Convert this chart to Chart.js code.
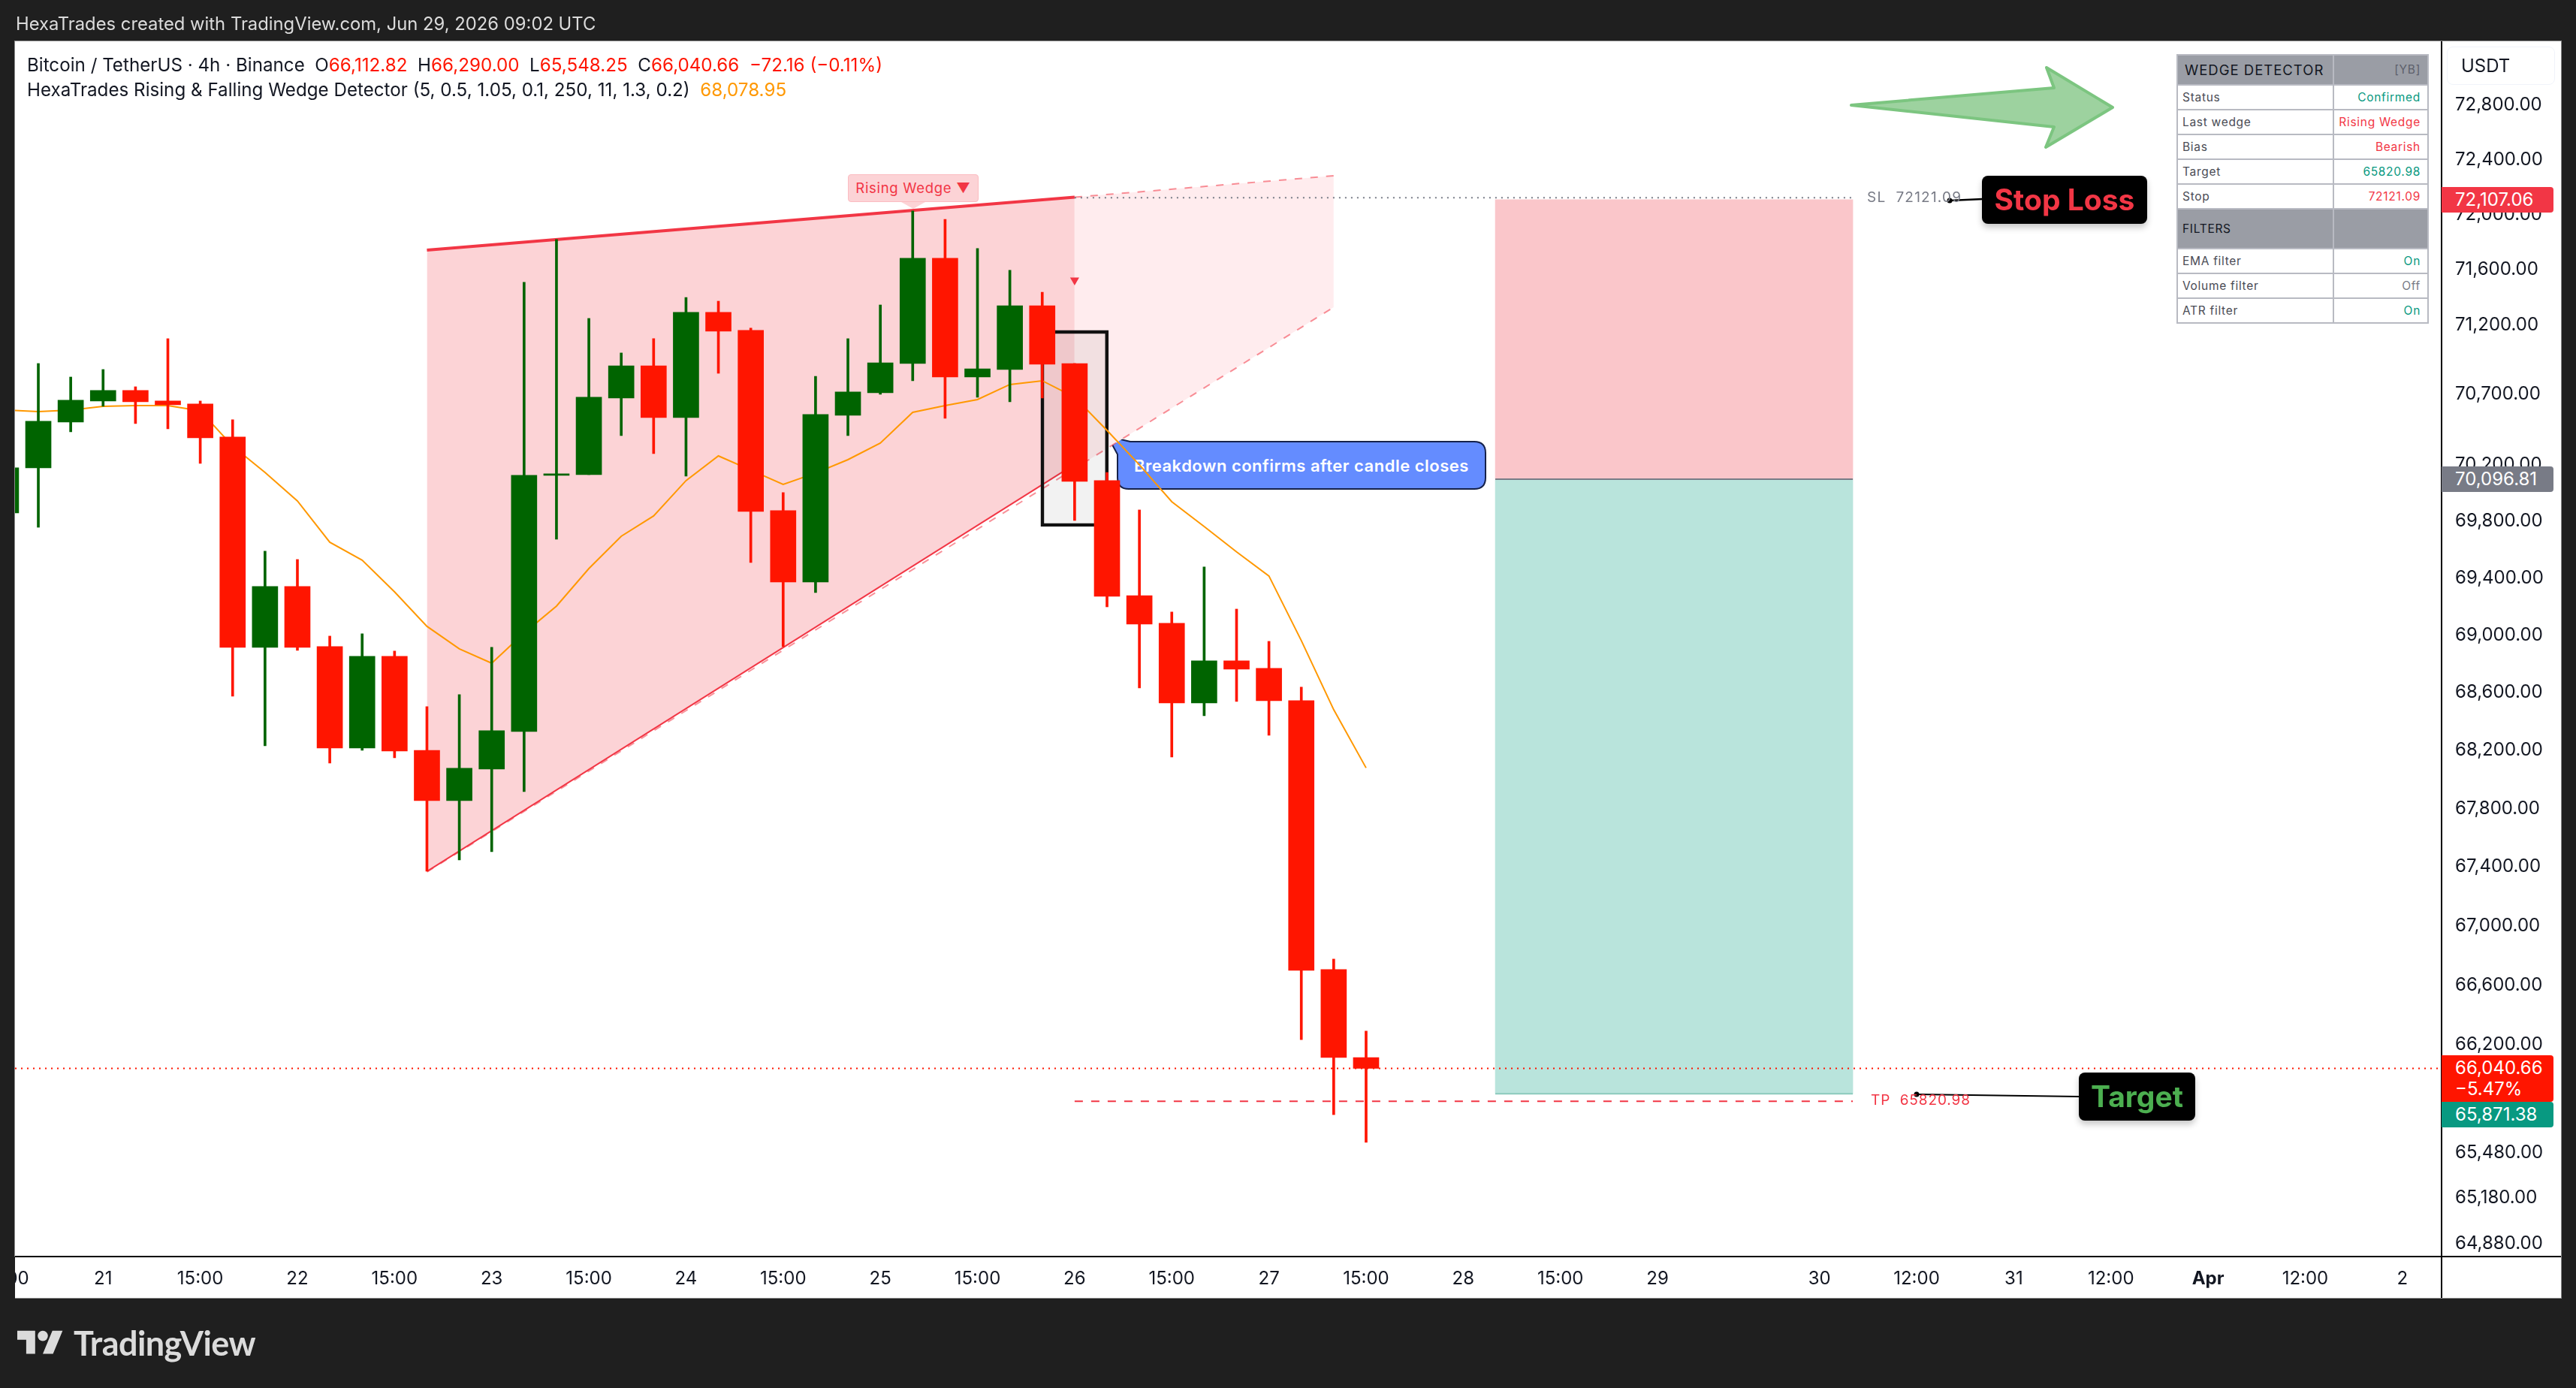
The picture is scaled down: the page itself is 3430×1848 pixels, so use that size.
<!DOCTYPE html>
<html>
<head>
<meta charset="utf-8">
<title>BTCUSDT 4h wedge</title>
<script src="https://cdn.jsdelivr.net/npm/chart.js@4/dist/chart.umd.js"></script>
<style>
    html, body { margin: 0; padding: 0; background: #1f1f1f; width: 3430px; height: 1848px; overflow: hidden; font-family: Inter, sans-serif; }
    .abs { position: absolute; white-space: nowrap; }
    #panel { left: 20px; top: 55px; width: 3390px; height: 1673px; background: #fff; box-shadow: 0 0 0 1px #8a8a8a; z-index: 1; position: absolute; height: 1673px; }
    #callout-svg { position: absolute; left: 0; top: 0; z-index: 2; }
    #callout-text { left: 1510px; top: 606px; font-size: 22px; line-height: 28px; font-weight: 600; color: #fff; letter-spacing: 0.5px; z-index: 2; }
    #chart { position: absolute; left: 0; top: 0; z-index: 3; }
    #left-strip { position: absolute; left: 0; top: 1673px; width: 20px; height: 56px; background: #1f1f1f; z-index: 4; }
    #overlay-svg { position: absolute; left: 0; top: 0; z-index: 4; }
    .over { z-index: 5; }
    .line { position: absolute; background: #000; z-index: 5; }
    #stamp { left: 21px; top: 18px; font-size: 23.8px; line-height: 28px; color: #dbdbdb; }
    .legend { left: 36px; font-size: 24.2px; line-height: 30px; color: #131722; }
    .legend .r { color: #ff1500; }
    .legend .o { color: #ff9800; }
    .badge { left: 3251px; width: 149px; color: #fff; font-size: 24px; border-radius: 0 4px 4px 0; box-sizing: border-box; padding-left: 18px; }
    .tag { background: #000; border-radius: 8px; box-shadow: 0 5px 9px rgba(0,0,0,0.22); text-align: center; font-weight: 700; font-size: 39px; }
    .note { font-size: 19px; letter-spacing: 1.2px; line-height: 24px; }
    #usdt { left: 3258px; top: 62px; width: 144px; height: 51px; box-sizing: border-box; border: 1px solid #f0f3fa; border-radius: 8px; font-size: 24px; line-height: 49px; padding-left: 18px; color: #131722; }
    #wedge-label { left: 1129px; top: 232px; width: 174px; height: 37px; box-sizing: border-box; background: #fcd3d6; border: 1px solid #fbbcc1; border-radius: 4px; color: #f23645; font-size: 18.5px; line-height: 35px; text-align: center; letter-spacing: 0.7px; }
    #detector { left: 2898px; top: 72px; width: 334px; border-collapse: collapse; table-layout: fixed; background: #fff; font-size: 15.5px; letter-spacing: 0.7px; color: #4a4c55; }
    #detector td { border: 2px solid #b8bac2; padding: 0 9px 0 6px; height: 31px; line-height: 18px; }
    #detector td.v { text-align: right; }
    #detector tr.h td { background: #9a9da5; color: #131722; }
    #brand { left: 98px; top: 1760px; font-family: Lato, sans-serif; font-size: 45px; line-height: 56px; font-weight: 700; color: #dbdbdb; letter-spacing: -0.6px; }
</style>
</head>
<body>
<div id="panel"></div>

<!-- callout sits below the chart canvas, the EMA runs over it -->
<svg id="callout-svg" width="3430" height="1848">
    <path d="M1475 581 L1505 588 L1963 588 Q1978 588 1978 603 L1978 636 Q1978 651 1963 651 L1503 651 Q1488 651 1488 636 L1488 605 Z" fill="#648cff" stroke="#16224a" stroke-width="2"/>
</svg>
<div id="callout-text" class="abs">Breakdown confirms after candle closes</div>

<canvas id="chart" width="3430" height="1848"></canvas>
<div id="left-strip"></div>

<svg id="overlay-svg" width="3430" height="1848">
    <polygon points="2465,140 2735,117 2725,90 2813,143 2724,196 2735,169" fill="#9dd29f" stroke="#7cc580" stroke-width="4" stroke-linejoin="round"/>
    <polygon points="1200,269 1232,269 1216,278" fill="#fcd3d6"/>
    <line x1="2596" y1="267" x2="2640" y2="265" stroke="#000" stroke-width="2.5"/>
    <circle cx="2596" cy="267" r="3.5" fill="#000"/>
    <line x1="2552" y1="1457" x2="2768" y2="1460" stroke="#000" stroke-width="2"/>
    <circle cx="2552" cy="1457" r="3.5" fill="#000"/>
    <g transform="translate(23 1765) scale(1.7)" fill="#dbdbdb">
        <path d="M14 22H7V11H0V4h14v18zM28 22h-8l7.5-18h8L28 22z"/>
        <circle cx="20" cy="8" r="4"/>
    </g>
</svg>

<div class="line" style="left:3250px;top:55px;width:2px;height:1673px"></div>
<div class="line" style="left:20px;top:1672px;width:3390px;height:2px"></div>

<div id="stamp" class="abs over">HexaTrades created with TradingView.com, Jun 29, 2026 09:02 UTC</div>
<div class="legend abs over" style="top:72px">Bitcoin / TetherUS · 4h · Binance &nbsp;O<span class="r">66,112.82</span> &nbsp;H<span class="r">66,290.00</span> &nbsp;L<span class="r">65,548.25</span> &nbsp;C<span class="r">66,040.66</span> &nbsp;<span class="r">−72.16 (−0.11%)</span></div>
<div class="legend abs over" style="top:105px">HexaTrades Rising &amp; Falling Wedge Detector (5, 0.5, 1.05, 0.1, 250, 11, 1.3, 0.2) &nbsp;<span class="o">68,078.95</span></div>

<div id="wedge-label" class="abs over">Rising Wedge ▼</div>

<div class="note abs over" style="left:2486px;top:251px;color:#787b86">SL&nbsp; 72121.09</div>
<div class="note abs over" style="left:2491px;top:1453px;color:#f23645;letter-spacing:0.9px">TP&nbsp; 65820.98</div>
<div class="tag abs over" style="left:2639px;top:234px;width:220px;height:64px;line-height:64px;color:#f23645">Stop Loss</div>
<div class="tag abs over" style="left:2768px;top:1428px;width:155px;height:64px;line-height:64px;color:#4caf50">Target</div>

<table id="detector" class="abs over">
    <colgroup><col style="width:208px"><col style="width:126px"></colgroup>
    <tr class="h"><td style="height:38px;font-size:18.5px;letter-spacing:1px;padding-left:9px">WEDGE DETECTOR</td><td class="v" style="color:#5d606b">[YB]</td></tr>
    <tr><td>Status</td><td class="v" style="color:#089981">Confirmed</td></tr>
    <tr><td>Last wedge</td><td class="v" style="color:#f23645">Rising Wedge</td></tr>
    <tr><td>Bias</td><td class="v" style="color:#f23645">Bearish</td></tr>
    <tr><td>Target</td><td class="v" style="color:#089981">65820.98</td></tr>
    <tr><td>Stop</td><td class="v" style="color:#f23645">72121.09</td></tr>
    <tr class="h"><td style="height:51px">FILTERS</td><td></td></tr>
    <tr><td>EMA filter</td><td class="v" style="color:#089981">On</td></tr>
    <tr><td>Volume filter</td><td class="v" style="color:#787b86">Off</td></tr>
    <tr><td>ATR filter</td><td class="v" style="color:#089981">On</td></tr>
</table>

<div id="usdt" class="abs over">USDT</div>
<div class="badge abs over" style="top:249px;height:34px;line-height:34px;background:#f23645">72,107.06</div>
<div class="badge abs over" style="top:621px;height:34px;line-height:34px;background:#787b86">70,096.81</div>
<div class="badge abs over" style="top:1405px;height:62px;line-height:28px;padding-top:3px;background:#ff1500">66,040.66<br>−5.47%</div>
<div class="badge abs over" style="top:1467px;height:34px;line-height:34px;background:#089981">65,871.38</div>

<div id="brand" class="abs over">TradingView</div>

<script>
// OHLC, 4h candles
const opens = [69857.6, 70176.9, 70503.1, 70653.2, 70728.3, 70653.2, 70631.7, 70395.9, 68914.1, 69339.3, 68919.4, 68215.5, 68851.2, 68199.9, 67854, 68070.8, 68330, 70123.7, 70129, 70674.6, 70905.7, 70535.2, 71289.4, 71159.7, 69873.5, 69371, 70551.3, 70712.2, 70921.9, 71680.7, 70824.8, 70878.7, 71337.7, 70921.9, 70086.4, 69276, 69081.8, 68527.7, 68819.8, 68767.4, 68543.3, 66703.6, 66112.82];
const highs = [70230, 70921.9, 70824.8, 70878.7, 70755.1, 71100.2, 70653.2, 70519.1, 69587.5, 69529.5, 68992.7, 69008.4, 68888, 68501.7, 68585, 68914.1, 71506.5, 71816.8, 71246.1, 70997.6, 71100.2, 71397.6, 71370.4, 71175.9, 70001.1, 70830.1, 71100.2, 71343.2, 72024.5, 71964.2, 71751.5, 71593.6, 71435.7, 70921.9, 70144, 69878.9, 69160.4, 69476.7, 69181.4, 68956, 68637, 66774.8, 66290];
const lows = [69800, 69756.5, 70433.4, 70615.7, 70492.3, 70454.8, 70208.8, 68574.5, 68231.1, 68893.2, 68112.1, 68199.9, 68148.2, 67371, 67447.9, 67504.3, 67916, 69672, 70129, 70406.5, 70278, 70118.4, 70851.7, 69508.3, 68919.4, 69297.1, 70406.5, 70701.5, 70798, 70529.9, 70680, 70647.8, 70674.6, 69804.4, 69197.1, 68631.8, 68153.4, 68438.9, 68538.1, 68303.9, 66233.4, 65731.9, 65548.25];
const closes = [70176.9, 70508.4, 70658.5, 70728.3, 70647.8, 70626.4, 70390.5, 68914.1, 69339.3, 68914.1, 68215.5, 68851.2, 68194.7, 67854, 68075.9, 68335.2, 70123.7, 70134.3, 70680, 70905.7, 70535.2, 71289.4, 71154.3, 69868.2, 69371, 70556.7, 70717.6, 70927.3, 71680.7, 70824.8, 70884.1, 71337.7, 70916.5, 70081.1, 69270.7, 69076.6, 68527.7, 68819.8, 68762.2, 68543.3, 66698.5, 66112.82, 66040.66];
const emaValues = [70588.8, 70578, 70588.8, 70615.7, 70621, 70621, 70583.5, 70331.5, 70145, 69942.7, 69651, 69524.2, 69302.4, 69060.9, 68903.6, 68804, 69013.9, 69202.3, 69465.4, 69693.2, 69836.3, 70086.4, 70262, 70160.9, 70059.8, 70139.7, 70235.4, 70352.9, 70572.7, 70621, 70663.8, 70771.2, 70798, 70680, 70444, 70198.2, 69937.4, 69761.8, 69582.8, 69413.3, 68961.2, 68481.2, 68078.95];

// wedge, in candle index and price
const wedgeX = [13, 33];
const wedgeUpper = [71740.6, 72125];
const wedgeLower = [67376, 70208.8];
const extensionX = [33, 41];
const extensionUpper = [72125, 72282.3];
const extensionLower = [70171.6, 71327.2];
const dashedLowerX = [13, 33, 41];
const dashedLower = [67366, 70171.6, 71327.2];
const breakdownIndex = 33;
const breakdownMark = 71522.8;
const breakdownBox = [71159.7, 69761.8];

// trade levels
const levelStartX = 33;
const boxStartX = 45.99;
const boxEndX = 57.03;
const stopPrice = 72107.06;
const entryPrice = 70096.81;
const targetPrice = 65871.38;
const slLevel = 72121.09;
const tpLevel = 65820.98;
const lastPrice = 66040.66;

// axes
const priceTicks = [72800, 72400, 72000, 71600, 71200, 70700, 70200, 69800, 69400, 69000, 68600, 68200, 67800, 67400, 67000, 66600, 66200, 65480, 65180, 64880];
const timeTickIndex = [0, 3, 6, 9, 12, 15, 18, 21, 24, 27, 30, 33, 36, 39, 42, 45, 48, 51, 56, 59, 62, 65, 68, 71, 74];
const timeTickLabels = ['15:00', '21', '15:00', '22', '15:00', '23', '15:00', '24', '15:00', '25', '15:00', '26', '15:00', '27', '15:00', '28', '15:00', '29', '30', '12:00', '31', '12:00', 'Apr', '12:00', '2'];
const xMin = 0.2806, xMax = 75.21;
const yMin = 64795, yMax = 73271.7;

const RED = '#ff1500', GREEN = '#006400', WEDGE = '#f23645';

const pts = (xs, ys) => xs.map((x, i) => ({ x: x, y: ys[i] }));
const flat = (x0, x1, y) => [{ x: x0, y: y }, { x: x1, y: y }];

function lineSet(data, color, width, dash, order, extra) {
    return Object.assign({
        type: 'line', data: data, borderColor: color, borderWidth: width, borderDash: dash,
        pointRadius: 0, tension: 0, fill: false, order: order
    }, extra || {});
}

function barSet(data, thickness, color, order, extra) {
    return Object.assign({
        type: 'bar', data: data, barThickness: thickness, backgroundColor: color,
        borderWidth: 0, stack: 'one', order: order
    }, extra || {});
}

const candleColors = opens.map((o, i) => closes[i] >= o ? GREEN : RED);
const boxCentre = (boxStartX + boxEndX) / 2;

const datasets = [
    // wedge fill, each pair fills to the next dataset
    lineSet(pts(wedgeX, wedgeUpper), WEDGE, 4, [], 20, { fill: '+1', backgroundColor: '#fcd3d6' }),
    lineSet(pts(wedgeX, wedgeLower), WEDGE, 4, [], 20),
    lineSet(pts(extensionX, extensionUpper), 'rgba(242,54,69,0.55)', 2, [10, 11], 21, { fill: '+1', backgroundColor: '#ffecee' }),
    lineSet(pts(extensionX, extensionLower), 'rgba(0,0,0,0)', 0, [], 21),
    lineSet(pts(dashedLowerX, dashedLower), 'rgba(242,54,69,0.55)', 2, [10, 11], 20.5),

    // risk / reward boxes
    barSet([{ x: boxCentre, y: [entryPrice, stopPrice] }], 476, '#fac6ca', 30),
    barSet([{ x: boxCentre, y: [targetPrice, entryPrice] }], 476, '#b9e4dc', 30),
    lineSet(flat(boxStartX, boxEndX, entryPrice), '#787b86', 2, [], 18),
    lineSet(flat(boxStartX, boxEndX, targetPrice), '#8ccabd', 2, [], 18),

    // level lines
    lineSet(flat(levelStartX, boxEndX, slLevel), '#787b86', 2, [2, 6], 17),
    lineSet(flat(levelStartX, boxEndX, tpLevel), WEDGE, 2, [11, 11], 17),
    lineSet(flat(xMin, xMax, lastPrice), RED, 2, [2, 6], 17),

    // breakdown candle box
    barSet([{ x: breakdownIndex, y: breakdownBox }], 90, 'rgba(0,0,0,0.05)', 15, { borderWidth: 4, borderColor: '#111', borderSkipped: false }),

    lineSet(pts(emaValues.map((_, i) => i), emaValues), '#ff9800', 2, [], 10),

    lineSet([{ x: breakdownIndex, y: breakdownMark }], WEDGE, 0, [], 9, {
        showLine: false, pointStyle: 'triangle', pointRotation: 180, pointRadius: 7, pointBackgroundColor: WEDGE, pointBorderWidth: 0
    }),

    // candles
    barSet(opens.map((_, i) => ({ x: i, y: [lows[i], highs[i]] })), 3, candleColors, 2),
    barSet(opens.map((o, i) => ({ x: i, y: [o, closes[i]] })), 34, candleColors, 1)
];

new Chart(document.getElementById('chart').getContext('2d'), {
    data: { datasets: datasets },
    options: {
        responsive: false,
        animation: false,
        devicePixelRatio: 1,
        layout: { padding: { left: 20, right: 20, top: 55, bottom: 120 } },
        plugins: { legend: { display: false }, tooltip: { enabled: false } },
        scales: {
            x: {
                type: 'linear',
                min: xMin,
                max: xMax,
                bounds: 'data',
                offset: false,
                grid: { display: false, drawTicks: false },
                border: { display: false },
                afterBuildTicks: (scale) => { scale.ticks = timeTickIndex.map(v => ({ value: v })); },
                afterFit: (scale) => { scale.height = 55; scale.paddingLeft = 0; scale.paddingRight = 0; },
                ticks: {
                    autoSkip: false,
                    maxRotation: 0,
                    padding: 15,
                    color: '#131722',
                    font: (ctx) => ({
                        family: 'Inter', size: 24,
                        weight: timeTickLabels[ctx.index] === 'Apr' ? '700' : '400'
                    }),
                    callback: (value, i) => timeTickLabels[i]
                }
            },
            y: {
                type: 'logarithmic',
                position: 'right',
                min: yMin,
                max: yMax,
                bounds: 'data',
                stacked: false,
                grid: { display: false, drawTicks: false },
                border: { display: false },
                afterBuildTicks: (scale) => { scale.ticks = priceTicks.map(v => ({ value: v })); },
                afterFit: (scale) => { scale.width = 159; scale.paddingTop = 0; scale.paddingBottom = 0; },
                ticks: {
                    autoSkip: false,
                    padding: 18,
                    color: '#131722',
                    font: { family: 'Inter', size: 24 },
                    callback: (value) => value.toLocaleString('en-US', { minimumFractionDigits: 2, maximumFractionDigits: 2 })
                }
            }
        }
    }
});
</script>
</body>
</html>
